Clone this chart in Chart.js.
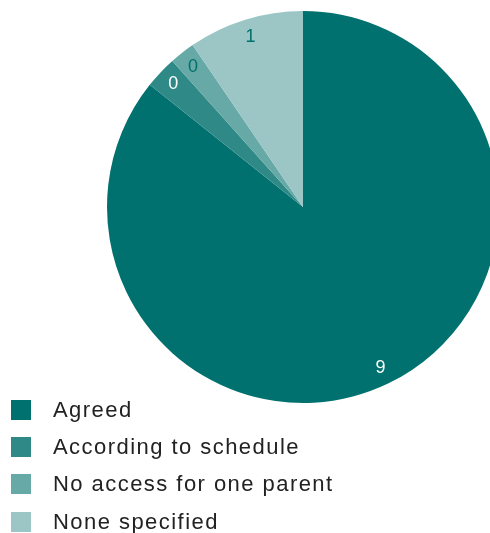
<!DOCTYPE html>
<html lang="en">
<head>
    <meta charset="UTF-8">
    <title>Access arrangements</title>
    <script src="https://cdn.jsdelivr.net/npm/chart.js"></script>
    <style>
        html, body { margin: 0; padding: 0; overflow: hidden; background: #fff; }
        #wrap { position: relative; width: 490px; height: 533px; overflow: hidden; }
        #chartBox { position: absolute; left: 0; top: 0; width: 606px; height: 414px; }
        #legend { position: absolute; left: 11px; top: 391px; font-family: "Liberation Sans", Arial, sans-serif; font-size: 22px; letter-spacing: 1.45px; color: #222; }
        .item { display: flex; align-items: center; height: 37.3px; white-space: nowrap; }
        .swatch { width: 20px; height: 20px; margin-right: 22px; }
    </style>
</head>
<body>
    <div id="wrap">
        <div id="chartBox"><canvas id="Chart" width="606" height="414"></canvas></div>
        <div id="legend"></div>
    </div>

    <script>
        const categories = ['Agreed', 'According to schedule', 'No access for one parent', 'None specified'];
        const counts = [9, 0.28, 0.22, 1];
        const colours = ['#00716e', '#2f8a87', '#66a9a7', '#9bc6c5'];
        const labelColours = ['#ffffff', '#ffffff', '#00716e', '#00716e'];

        // writes the rounded count inside each slice
        const sliceLabels = {
            id: 'sliceLabels',
            afterDatasetsDraw(chart) {
                const ctx = chart.ctx;
                const arcs = chart.getDatasetMeta(0).data;
                ctx.save();
                ctx.font = '18px "Liberation Sans", Arial, sans-serif';
                ctx.textAlign = 'center';
                ctx.textBaseline = 'middle';
                arcs.forEach((arc, i) => {
                    const mid = (arc.startAngle + arc.endAngle) / 2;
                    const r = arc.outerRadius * 0.91;
                    ctx.fillStyle = labelColours[i];
                    ctx.fillText(Math.round(counts[i]), arc.x + Math.cos(mid) * r, arc.y + Math.sin(mid) * r);
                });
                ctx.restore();
            }
        };

        new Chart(document.getElementById('Chart'), {
            type: 'pie',
            data: {
                labels: categories,
                datasets: [{
                    data: counts,
                    backgroundColor: colours,
                    borderWidth: 0
                }]
            },
            options: {
                responsive: false,
                animation: false,
                layout: { padding: { top: 11, bottom: 11 } },
                plugins: {
                    legend: { display: false },
                    tooltip: { enabled: false }
                }
            },
            plugins: [sliceLabels]
        });

        // legend list below the pie
        const legend = document.getElementById('legend');
        categories.forEach((name, i) => {
            const row = document.createElement('div');
            row.className = 'item';
            row.innerHTML = '<span class="swatch" style="background:' + colours[i] + '"></span><span>' + name + '</span>';
            legend.appendChild(row);
        });
    </script>
</body>
</html>
